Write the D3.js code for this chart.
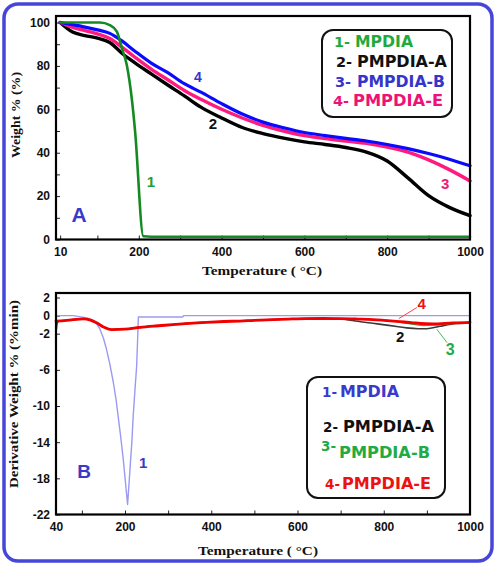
<!DOCTYPE html>
<html><head><meta charset="utf-8">
<script src="https://cdn.jsdelivr.net/npm/d3@7"></script>
<style>
html,body{margin:0;padding:0;background:#fff;}
svg{display:block;}
</style></head>
<body>
<svg id="chart" width="496" height="566"></svg>
<script>
// ---------- Panel A data (TGA) ----------
const tempA_MPDIA = [10, 106, 130, 147, 159, 171, 183, 191, 211, 230, 400, 600, 800, 1000];
const weight_MPDIA = [100, 100, 98.8, 95.8, 88.3, 80.4, 65, 50, 1.5, 1.3, 1.3, 1.3, 1.3, 1.3];

const tempA = [10, 40, 70, 100, 130, 160, 190, 230, 270, 310, 350, 400, 450, 500, 550, 600, 650, 700, 750, 800, 850, 900, 950, 1000];
const weight_A = [100, 95.6, 94.0, 92.8, 90.8, 85.7, 81.5, 76.3, 71.2, 66.2, 61.0, 56.0, 51.6, 48.8, 46.7, 45.0, 43.8, 42.4, 40.3, 36.2, 28.4, 20.2, 14.8, 11.0];
const weight_B = [100, 99.0, 97.9, 96.6, 95.0, 91.4, 86.9, 81.3, 76.9, 71.8, 67.9, 62.6, 57.8, 54.1, 51.5, 49.3, 47.9, 46.6, 45.4, 43.8, 41.9, 39.6, 37.0, 34.0];
const weight_E = [100, 97.8, 96.3, 94.8, 92.6, 88.5, 84.1, 78.5, 73.6, 68.7, 64.6, 60.0, 56.0, 52.6, 50.0, 47.9, 46.5, 45.4, 44.3, 42.6, 40.3, 36.7, 32.2, 27.0];

const xTicksA = [10, 100, 200, 300, 400, 500, 600, 700, 800, 900, 1000];
const xLabelsA = [10, 200, 400, 600, 800, 1000];
const yTicksA = [0, 10, 20, 30, 40, 50, 60, 70, 80, 90, 100];
const yLabelsA = [0, 20, 40, 60, 80, 100];

// ---------- Panel B data (DTG) ----------
const tempB_MPDIA = [40, 80, 105, 115, 126, 134, 142, 150, 157, 165, 173, 179, 184, 190, 196, 201, 206, 209, 212, 216, 219, 223, 227, 229, 231, 334, 336, 1000];
const deriv_MPDIA = [0, 0, -0.2, -0.3, -0.5, -0.9, -1.5, -2.5, -3.7, -5.4, -7.4, -9.2, -11.1, -13.4, -15.9, -18.4, -20.9, -18.8, -16.7, -13.9, -11.1, -8.3, -5.6, -3.0, -0.15, -0.15, 0, 0];

const tempB_A = [40, 43, 48, 80, 103, 120, 134, 150, 169, 200, 235, 270, 311, 350, 389, 430, 467, 500, 543, 580, 621, 660, 699, 722, 750, 775, 798, 830, 853, 880, 900, 930, 969, 1000];
const deriv_A = [-1.9, -0.8, -0.6, -0.45, -0.37, -0.5, -0.8, -1.25, -1.55, -1.5, -1.3, -1.15, -1.0, -0.85, -0.74, -0.65, -0.6, -0.52, -0.44, -0.38, -0.33, -0.32, -0.35, -0.5, -0.7, -0.85, -1.0, -1.2, -1.36, -1.45, -1.45, -1.18, -0.88, -0.8];

const tempB_B = [40, 60, 80, 103, 120, 134, 150, 169, 200, 235, 270, 311, 350, 389, 430, 467, 500, 543, 580, 621, 660, 699, 740, 775, 814, 853, 891, 920, 946, 975, 1000];
const deriv_B = [-0.6, -0.55, -0.45, -0.37, -0.5, -0.8, -1.25, -1.55, -1.5, -1.3, -1.15, -1.0, -0.85, -0.74, -0.65, -0.6, -0.52, -0.44, -0.38, -0.33, -0.32, -0.33, -0.38, -0.44, -0.55, -0.85, -1.1, -1.05, -0.92, -0.82, -0.78];

const tempB_E = [40, 60, 80, 103, 120, 134, 150, 169, 200, 235, 270, 311, 350, 389, 430, 467, 500, 543, 580, 621, 660, 699, 740, 775, 800, 830, 868, 914, 961, 1000];
const deriv_E = [-0.6, -0.55, -0.45, -0.37, -0.5, -0.8, -1.25, -1.55, -1.5, -1.3, -1.15, -1.0, -0.85, -0.74, -0.65, -0.6, -0.52, -0.44, -0.38, -0.33, -0.32, -0.33, -0.38, -0.44, -0.52, -0.63, -0.8, -0.92, -0.8, -0.74];

const xTicksB = [40, 100, 200, 300, 400, 500, 600, 700, 800, 900, 1000];
const xLabelsB = [40, 200, 400, 600, 800, 1000];
const yTicksB = [2, 0, -2, -6, -10, -14, -18, -22];

const legendNames = ["MPDIA", "PMPDIA-A", "PMPDIA-B", "PMPDIA-E"];

// annotations (data coordinates)
const annA = [
  {t: "4", x: 343, y: 75, c: "#3535cc", s: 14},
  {t: "2", x: 379, y: 53.5, c: "#111", s: 15},
  {t: "3", x: 940, y: 26, c: "#ee1a78", s: 15},
  {t: "1", x: 229, y: 26.5, c: "#22a033", s: 15},
  {t: "A", x: 56, y: 11.3, c: "#3a3ac8", s: 21}
];
const annB = [
  {t: "4", x: 888, y: 1.3, c: "#ee1111", s: 15},
  {t: "3", x: 954, y: -3.8, c: "#22aa44", s: 16},
  {t: "2", x: 838, y: -2.3, c: "#111", s: 15},
  {t: "1", x: 242, y: -16.3, c: "#3a3ac8", s: 15},
  {t: "B", x: 105, y: -17.2, c: "#3a3ac8", s: 19}
];
const leadersB = [
  {x1: 835, y1: -0.33, x2: 877, y2: 0.9, c: "#ff4444"},
  {x1: 923, y1: -1.5, x2: 947, y2: -3.0, c: "#44bb55"}
];

// ---------- drawing ----------
const svg = d3.select("#chart");
svg.append("rect").attr("width", 496).attr("height", 566).attr("fill", "#fff");
svg.append("rect").attr("x", 4).attr("y", 4).attr("width", 488).attr("height", 557)
  .attr("rx", 14).attr("fill", "none").attr("stroke", "#4646d8").attr("stroke-width", 3.5);

const xA = d3.scaleLinear().domain([0, 1000]).range([56, 470]);
const yA = d3.scaleLinear().domain([0, 103]).range([239.5, 16]);
const xB = d3.scaleLinear().domain([40, 1000]).range([56, 470]);
const yB = d3.scaleLinear().domain([-22, 2.5]).range([514.5, 293]);

function styleAxis(g) {
  g.select(".domain").remove();
  g.selectAll(".tick line").attr("stroke", "#222").attr("stroke-width", 1);
  g.selectAll(".tick text").attr("font-family", "'Liberation Sans', Arial, sans-serif")
    .attr("font-weight", "bold").attr("font-size", 12).attr("fill", "#111");
}

function panel(x, y, xTicks, xLabels, yTicks, yLabels) {
  const [x0, x1] = x.range();
  const [y0, y1] = y.range();
  svg.append("g").attr("transform", `translate(0,${y0})`)
    .call(d3.axisBottom(x).tickValues(xTicks).tickFormat(d => xLabels.includes(d) ? String(d) : "")
      .tickSizeInner(-4).tickSizeOuter(0).tickPadding(8))
    .call(styleAxis);
  svg.append("g").attr("transform", `translate(${x0},0)`)
    .call(d3.axisLeft(y).tickValues(yTicks).tickFormat(d => yLabels.includes(d) ? String(d) : "")
      .tickSizeInner(-4).tickSizeOuter(0).tickPadding(6))
    .call(styleAxis);
}

function frame(x, y) {
  const [x0, x1] = x.range();
  const [y0, y1] = y.range();
  svg.append("rect").attr("x", x0).attr("y", y1).attr("width", x1 - x0).attr("height", y0 - y1)
    .attr("fill", "none").attr("stroke", "#000").attr("stroke-width", 2.2);
}

function curve(x, y, xs, ys, color, w, cv) {
  const pts = xs.map((d, i) => [d, ys[i]]);
  svg.append("path").datum(pts)
    .attr("d", d3.line().x(d => x(d[0])).y(d => y(d[1])).curve(cv || d3.curveMonotoneX))
    .attr("fill", "none").attr("stroke", color).attr("stroke-width", w)
    .attr("stroke-linejoin", "round").attr("stroke-linecap", "round");
}

function axisTitles(xc, yBase, xLen, ylx, yly, ylText, ylLen) {
  svg.append("text").attr("x", xc).attr("y", yBase).attr("text-anchor", "middle")
    .attr("font-family", "'Liberation Serif', 'DejaVu Serif', serif").attr("font-weight", "bold")
    .attr("font-size", 13.5).attr("fill", "#111")
    .attr("textLength", xLen).attr("lengthAdjust", "spacingAndGlyphs")
    .text("Temperature ( \u00B0C)");
  svg.append("text").attr("transform", `translate(${ylx},${yly}) rotate(-90)`).attr("text-anchor", "middle")
    .attr("font-family", "'Liberation Serif', 'DejaVu Serif', serif").attr("font-weight", "bold")
    .attr("font-size", 13.5).attr("fill", "#111")
    .attr("textLength", ylLen).attr("lengthAdjust", "spacingAndGlyphs")
    .text(ylText);
}

function annotate(x, y, list) {
  list.forEach(a => {
    svg.append("text").attr("x", x(a.x)).attr("y", y(a.y)).attr("text-anchor", "middle")
      .attr("dominant-baseline", "central")
      .attr("font-family", "'Liberation Sans', Arial, sans-serif").attr("font-weight", "bold")
      .attr("font-size", a.s).attr("fill", a.c).text(a.t);
  });
}

function legend(box, rows, ps) {
  svg.append("rect").attr("x", box.x).attr("y", box.y).attr("width", box.w).attr("height", box.h)
    .attr("rx", 11).attr("fill", "#fff").attr("stroke", "#111").attr("stroke-width", 2);
  rows.forEach(r => {
    svg.append("text").attr("x", r.px).attr("y", r.pb)
      .attr("font-family", "'DejaVu Sans', sans-serif").attr("font-weight", "bold")
      .attr("font-size", ps).attr("fill", r.c).text(r.p);
    svg.append("text").attr("x", r.nx).attr("y", r.nb)
      .attr("font-family", "'DejaVu Sans', sans-serif").attr("font-weight", "bold")
      .attr("font-size", 16).attr("fill", r.c)
      .attr("textLength", r.nw).attr("lengthAdjust", "spacingAndGlyphs").text(r.n);
  });
}

// ----- Panel A -----
panel(xA, yA, xTicksA, xLabelsA, yTicksA, yLabelsA);
curve(xA, yA, tempA, weight_A, "#000", 3.4);
curve(xA, yA, tempA, weight_E, "#ff1a80", 3.4);
curve(xA, yA, tempA, weight_B, "#0a0aff", 3.2);
curve(xA, yA, tempA_MPDIA, weight_MPDIA, "#168a22", 2.6);
frame(xA, yA);
axisTitles(262, 275, 120, 20, 115, "Weight % (%)", 86);
annotate(xA, yA, annA);
const colA = ["#1faa3c", "#111", "#3535cc", "#ee1177"];
legend({x: 322, y: 30, w: 130, h: 87}, [
  {p: "1-", px: 334, pb: 47, n: legendNames[0], nx: 355, nb: 47, nw: 58, c: colA[0]},
  {p: "2-", px: 336, pb: 66.5, n: legendNames[1], nx: 357, nb: 66.5, nw: 90, c: colA[1]},
  {p: "3-", px: 335, pb: 86.5, n: legendNames[2], nx: 357, nb: 86.5, nw: 88, c: colA[2]},
  {p: "4-", px: 333, pb: 106, n: legendNames[3], nx: 353, nb: 106, nw: 90, c: colA[3]}
], 14.5);

// ----- Panel B -----
panel(xB, yB, xTicksB, xLabelsB, yTicksB, yTicksB);
curve(xB, yB, tempB_MPDIA, deriv_MPDIA, "#9a9af2", 1.4, d3.curveLinear);
curve(xB, yB, tempB_A, deriv_A, "#3a3a3a", 1.6);
curve(xB, yB, tempB_B, deriv_B, "#33b044", 1.4);
curve(xB, yB, tempB_E, deriv_E, "#f20000", 2.8);
leadersB.forEach(l => {
  svg.append("line").attr("x1", xB(l.x1)).attr("y1", yB(l.y1)).attr("x2", xB(l.x2)).attr("y2", yB(l.y2))
    .attr("stroke", l.c).attr("stroke-width", 1);
});
frame(xB, yB);
axisTitles(258, 555, 120, 18, 394, "Derivative Weight % (%min)", 188);
annotate(xB, yB, annB);
const colB = ["#3a3acc", "#111", "#22aa44", "#ee1111"];
legend({x: 307, y: 377, w: 138, h: 121}, [
  {p: "1-", px: 322, pb: 397, n: legendNames[0], nx: 340, nb: 397, nw: 59, c: colB[0]},
  {p: "2-", px: 323, pb: 431.5, n: legendNames[1], nx: 343, nb: 431.5, nw: 91, c: colB[1]},
  {p: "3-", px: 321, pb: 451, n: legendNames[2], nx: 339, nb: 458, nw: 91, c: colB[2]},
  {p: "4-", px: 325, pb: 489, n: legendNames[3], nx: 342, nb: 489, nw: 89, c: colB[3]}
], 13.5);
</script>
</body></html>
